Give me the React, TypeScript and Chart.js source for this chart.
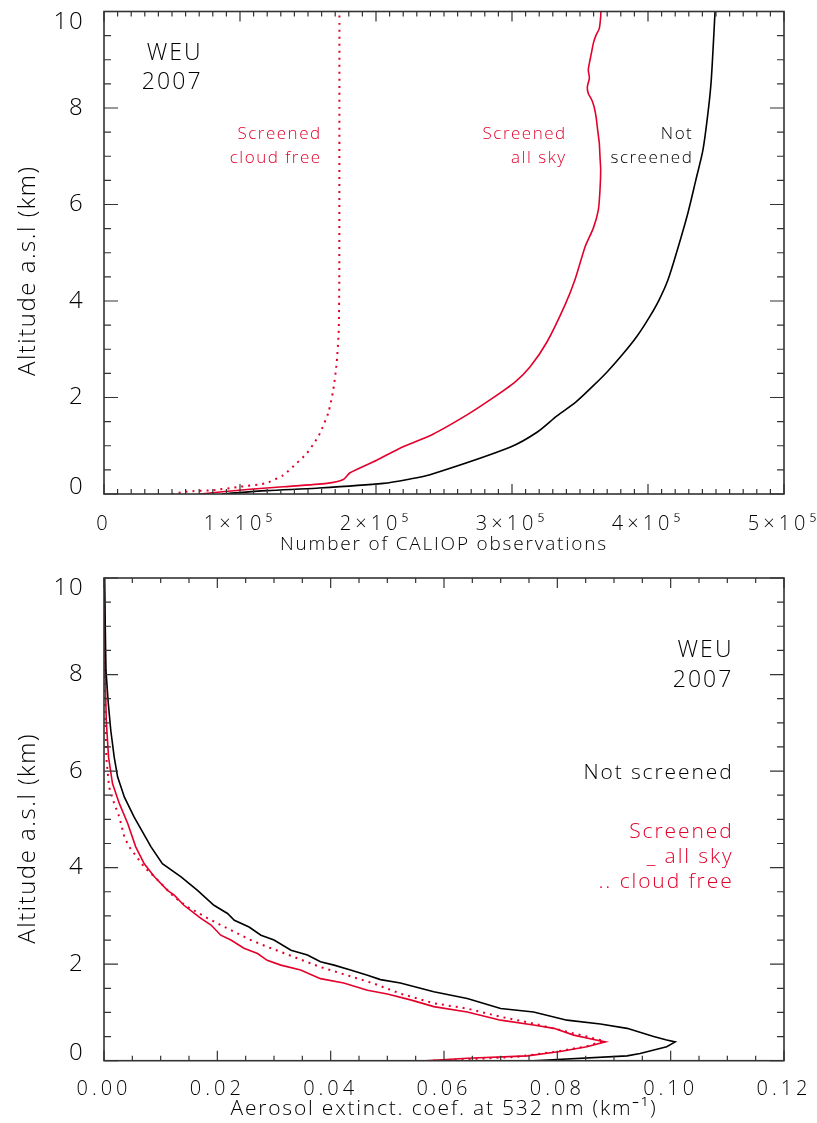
import React, { useEffect, useRef } from "react";
import { Chart, registerables } from "chart.js";
Chart.register(...registerables);

const RED = "#e3002b";
const FONT = "'Open Sans', 'DejaVu Sans', sans-serif";

// ---------- Top panel: number of CALIOP observations vs altitude ----------
const obsXTicks = [0, 100000, 200000, 300000, 400000, 500000];
const altTicks = [0, 2, 4, 6, 8, 10];

const notScreenedAlt = [0, 0.07, 0.12, 0.22, 0.31, 0.40, 0.97, 1.28, 1.62, 1.91, 2.24, 2.53, 2.88, 3.27, 3.65, 4.02, 4.44, 5.10, 5.82, 6.51, 7.13, 7.90, 8.50, 9.20, 10.0];
const notScreenedCount = [86800, 119600, 156400, 205400, 225000, 239700, 298500, 318400, 333100, 347100, 359600, 369900, 380900, 391900, 400700, 408100, 414700, 422000, 429300, 435200, 440400, 444100, 446300, 447800, 449300];

const allSkyAlt = [0, 0.10, 0.15, 0.22, 0.30, 0.44, 0.70, 0.95, 1.24, 1.64, 1.95, 2.32, 2.63, 3.15, 3.92, 4.44, 5.12, 5.51, 5.89, 6.30, 6.72, 6.99, 7.27, 7.54, 7.82, 8.03, 8.17, 8.30, 8.44, 8.62, 8.79, 9.00, 9.17, 9.34, 9.51, 9.65, 9.89, 10.0];
const allSkyCount = [70600, 107400, 131800, 163800, 176000, 180900, 200500, 217600, 241900, 266900, 283800, 302200, 313200, 325700, 339000, 346300, 353700, 359800, 363500, 364700, 365200, 364700, 364200, 363000, 361800, 360300, 358600, 356100, 355400, 356900, 356100, 357400, 358600, 359800, 361800, 364200, 365200, 365400];

const cloudFreeAlt = [0, 0.05, 0.08, 0.15, 0.22, 0.39, 0.64, 0.84, 1.08, 1.26, 1.68, 2.16, 2.72, 3.40, 4.44, 10.0];
const cloudFreeCount = [49800, 60800, 80400, 100000, 118400, 131800, 141700, 149000, 155100, 158800, 164900, 168600, 171100, 172600, 173000, 173100];

// ---------- Bottom panel: aerosol extinction vs altitude ----------
const extXTicks = [0, 0.02, 0.04, 0.06, 0.08, 0.10, 0.12];

const extNotScreenedAlt = [10, 9.88, 8.08, 7.40, 6.84, 6.29, 5.88, 5.46, 5.05, 4.43, 4.08, 3.81, 3.53, 3.22, 3.05, 2.91, 2.77, 2.60, 2.50, 2.29, 2.19, 2.05, 1.98, 1.88, 1.77, 1.68, 1.61, 1.43, 1.29, 1.08, 1.01, 0.84, 0.76, 0.67, 0.50, 0.43, 0.39, 0.29, 0.15, 0.10, 0.0];
const extNotScreened = [0.0, 0.0001, 0.00035, 0.00076, 0.0012, 0.0018, 0.0024, 0.0036, 0.0053, 0.0083, 0.0103, 0.0136, 0.0165, 0.0194, 0.0218, 0.0230, 0.0256, 0.0277, 0.0300, 0.0330, 0.0359, 0.0382, 0.0406, 0.0435, 0.0465, 0.0488, 0.0523, 0.0582, 0.0641, 0.0700, 0.0758, 0.0817, 0.0876, 0.0923, 0.0970, 0.0993, 0.1008, 0.0993, 0.0946, 0.0923, 0.0758];

const extAllSkyAlt = [10, 9.88, 8.08, 7.05, 6.29, 5.74, 5.33, 4.91, 4.43, 4.08, 3.81, 3.53, 3.43, 3.22, 2.95, 2.81, 2.60, 2.50, 2.33, 2.22, 2.08, 1.98, 1.88, 1.70, 1.61, 1.46, 1.38, 1.26, 1.12, 1.01, 0.84, 0.74, 0.67, 0.53, 0.44, 0.39, 0.29, 0.19, 0.10, 0.05, 0.0];
const extAllSky = [0.0, 0.0001, 0.0002, 0.0004, 0.0008, 0.0015, 0.0027, 0.0042, 0.0056, 0.0071, 0.0089, 0.0112, 0.0124, 0.0141, 0.0171, 0.0189, 0.0206, 0.0224, 0.0247, 0.0271, 0.0288, 0.0312, 0.0347, 0.0382, 0.0423, 0.0465, 0.0500, 0.0541, 0.0582, 0.0641, 0.0700, 0.0758, 0.0794, 0.0829, 0.0864, 0.0885, 0.0852, 0.0805, 0.0747, 0.0641, 0.0567];

const extCloudFreeAlt = [10, 7.46, 6.29, 5.67, 5.33, 5.05, 4.63, 4.44, 4.01, 3.74, 3.39, 3.19, 2.95, 2.74, 2.50, 2.36, 2.15, 1.94, 1.77, 1.60, 1.39, 1.19, 1.08, 0.91, 0.77, 0.60, 0.50, 0.41, 0.30, 0.19, 0.08, 0.03, 0.0];
const extCloudFree = [0.0, 0.0002, 0.0004, 0.0009, 0.0018, 0.0027, 0.0036, 0.0044, 0.0071, 0.0095, 0.0124, 0.0147, 0.0183, 0.0218, 0.0259, 0.0288, 0.0335, 0.0382, 0.0429, 0.0476, 0.0523, 0.0582, 0.0641, 0.0700, 0.0758, 0.0817, 0.0852, 0.0882, 0.0852, 0.0799, 0.0729, 0.0641, 0.0576];

type Note = { text: string; x: number; y: number; size: number; color: string };

const topNotes: Note[] = [
  { text: "WEU", x: 72600, y: 9.13, size: 23, color: "#000" },
  { text: "2007", x: 72600, y: 8.52, size: 23, color: "#000" },
  { text: "Screened", x: 160000, y: 7.46, size: 17, color: RED },
  { text: "cloud free", x: 160000, y: 6.97, size: 17, color: RED },
  { text: "Screened", x: 340200, y: 7.46, size: 17, color: RED },
  { text: "all sky", x: 340200, y: 6.97, size: 17, color: RED },
  { text: "Not", x: 433300, y: 7.46, size: 17, color: "#000" },
  { text: "screened", x: 433300, y: 6.97, size: 17, color: "#000" },
];

const bottomNotes: Note[] = [
  { text: "WEU", x: 0.1111, y: 8.49, size: 23, color: "#000" },
  { text: "2007", x: 0.1111, y: 7.88, size: 23, color: "#000" },
  { text: "Not screened", x: 0.1111, y: 5.97, size: 21, color: "#000" },
  { text: "Screened", x: 0.1111, y: 4.74, size: 21, color: RED },
  { text: "_ all sky", x: 0.1111, y: 4.21, size: 21, color: RED },
  { text: ".. cloud free", x: 0.1111, y: 3.71, size: 21, color: RED },
];

const toPoints = (xs: number[], ys: number[]) => xs.map((x, i) => ({ x, y: ys[i] }));

type PanelCfg = {
  height: number;
  padTop: number;
  plotBottom: number;
  xMax: number;
  xTicks: number[];
  xMajor: number;
  xMinor: number;
  xFormat: (v: number) => string;
  xTitle: string;
  xTitleSize: number;
  xTickPad: number;
  xTitlePad: number;
  yTitleShift: number;
  notes: Note[];
  datasets: any[];
};

function decorPlugin(cfg: PanelCfg) {
  return {
    id: "decor",
    beforeDraw(chart: any) {
      chart.ctx.letterSpacing = "1.8px";
    },
    afterDatasetsDraw(chart: any) {
      // x tick labels are drawn after the datasets (ticks.z = 1) with wider spacing
      chart.ctx.letterSpacing = "4px";
    },
    afterDraw(chart: any) {
      const ctx: CanvasRenderingContext2D = chart.ctx;
      const a = chart.chartArea;
      const xs = chart.scales.x;
      const ys = chart.scales.y;
      ctx.save();
      ctx.strokeStyle = "#333";
      ctx.lineWidth = 1.6;
      ctx.strokeRect(a.left, a.top, a.right - a.left, a.bottom - a.top);
      ctx.lineWidth = 1.2;
      ctx.beginPath();
      const nx = Math.round((xs.max - xs.min) / cfg.xMinor);
      for (let i = 0; i <= nx; i++) {
        const v = xs.min + i * cfg.xMinor;
        const r = v / cfg.xMajor;
        const major = Math.abs(r - Math.round(r)) < 1e-6;
        const L = major ? 10 : 5;
        const px = xs.getPixelForValue(v);
        ctx.moveTo(px, a.bottom);
        ctx.lineTo(px, a.bottom - L);
        ctx.moveTo(px, a.top);
        ctx.lineTo(px, a.top + L);
      }
      const ny = Math.round((ys.max - ys.min) / 0.5);
      for (let i = 0; i <= ny; i++) {
        const v = ys.min + i * 0.5;
        const major = Math.abs(v / 2 - Math.round(v / 2)) < 1e-6;
        const L = major ? 14 : 7;
        const py = ys.getPixelForValue(v);
        ctx.moveTo(a.left, py);
        ctx.lineTo(a.left + L, py);
        ctx.moveTo(a.right, py);
        ctx.lineTo(a.right - L, py);
      }
      ctx.stroke();

      // y-axis title
      ctx.save();
      ctx.letterSpacing = "1.5px";
      ctx.translate(28, (a.top + a.bottom) / 2 + cfg.yTitleShift);
      ctx.rotate(-Math.PI / 2);
      ctx.font = `300 24px ${FONT}`;
      ctx.fillStyle = "#000";
      ctx.textAlign = "center";
      ctx.textBaseline = "middle";
      ctx.fillText("Altitude a.s.l (km)", 0, 0);
      ctx.restore();

      // annotations
      for (const n of cfg.notes) {
        ctx.font = `300 ${n.size}px ${FONT}`;
        ctx.letterSpacing = `${(n.size * 0.09).toFixed(1)}px`;
        ctx.fillStyle = n.color;
        ctx.textAlign = "right";
        ctx.textBaseline = "middle";
        ctx.fillText(n.text, xs.getPixelForValue(n.x), ys.getPixelForValue(n.y));
      }
      ctx.restore();
    },
  };
}

function Panel({ cfg, top }: { cfg: PanelCfg; top: number }) {
  const ref = useRef<HTMLCanvasElement | null>(null);
  useEffect(() => {
    if (!ref.current) return;
    const chart = new Chart(ref.current, {
      type: "scatter",
      data: { datasets: cfg.datasets },
      options: {
        responsive: false,
        animation: false,
        events: [],
        layout: { padding: { top: cfg.padTop, right: 33, left: 0, bottom: 0 } },
        plugins: { legend: { display: false }, tooltip: { enabled: false } },
        elements: { point: { radius: 0 } },
        scales: {
          x: {
            type: "linear",
            min: 0,
            max: cfg.xMax,
            afterBuildTicks: (s: any) => {
              s.ticks = cfg.xTicks.map((v) => ({ value: v }));
            },
            afterFit: (s: any) => {
              s.height = cfg.height - cfg.plotBottom;
              s.paddingLeft = 0;
              s.paddingRight = 0;
              s.paddingTop = 0;
              s.paddingBottom = 0;
            },
            grid: { display: false },
            border: { display: false },
            ticks: {
              z: 1,
              autoSkip: false,
              maxRotation: 0,
              padding: cfg.xTickPad,
              color: "#000",
              font: { family: FONT, size: 20, weight: "300" as any },
              callback: (v: any) => cfg.xFormat(Number(v)),
            },
            title: {
              display: true,
              text: cfg.xTitle,
              color: "#000",
              font: { family: FONT, size: cfg.xTitleSize, weight: "300" as any },
              padding: { top: 0, bottom: cfg.xTitlePad },
            },
          },
          y: {
            type: "linear",
            min: 0,
            max: 10,
            afterBuildTicks: (s: any) => {
              s.ticks = altTicks.map((v) => ({ value: v }));
            },
            afterFit: (s: any) => {
              s.width = 104;
              s.paddingLeft = 0;
              s.paddingRight = 0;
              s.paddingTop = 0;
              s.paddingBottom = 0;
            },
            grid: { display: false },
            border: { display: false },
            ticks: {
              padding: 11.5,
              color: "#000",
              font: (c: any) => {
                const v = c && c.tick ? c.tick.value : null;
                const lh = v === 10 ? 0.85 : v === 0 ? 0.6 : 1.2;
                return { family: FONT, size: 24, weight: "300", lineHeight: lh };
              },
              callback: (v: any) => {
                const n = Number(v);
                if (n === 10) return ["", "10"];
                if (n === 0) return ["0", ""];
                return String(n);
              },
            },
          },
        },
      },
      plugins: [decorPlugin(cfg)],
    } as any);
    return () => chart.destroy();
  }, []);
  return (
    <canvas
      ref={ref}
      width={817}
      height={cfg.height}
      style={{ position: "absolute", left: 0, top, width: 817, height: cfg.height }}
    />
  );
}

const lineDs = (label: string, pts: any[], color: string, dotted = false, tension = 0) => ({
  label,
  data: pts,
  showLine: true,
  borderColor: color,
  backgroundColor: color,
  borderWidth: dotted ? 2 : 1.6,
  borderDash: dotted ? [2, 5] : [],
  pointRadius: 0,
  tension,
  fill: false,
});

const topCfg: PanelCfg = {
  height: 560,
  padTop: 11.5,
  plotBottom: 494,
  xMax: 500000,
  xTicks: obsXTicks,
  xMajor: 100000,
  xMinor: 10000,
  xFormat: (v) => (v === 0 ? "0" : `${Math.round(v / 100000)}×10⁵`),
  xTitle: "Number of CALIOP observations",
  xTitleSize: 19,
  xTickPad: 10,
  xTitlePad: 4.5,
  yTitleShift: 18,
  notes: topNotes,
  datasets: [
    lineDs("Not screened", toPoints(notScreenedCount, notScreenedAlt), "#000", false, 0.3),
    lineDs("Screened all sky", toPoints(allSkyCount, allSkyAlt), RED, false, 0.2),
    lineDs("Screened cloud free", toPoints(cloudFreeCount, cloudFreeAlt), RED, true, 0.2),
  ],
};

const bottomCfg: PanelCfg = {
  height: 563,
  padTop: 18,
  plotBottom: 500.7,
  xMax: 0.12,
  xTicks: extXTicks,
  xMajor: 0.02,
  xMinor: 0.005,
  xFormat: (v) => v.toFixed(2),
  xTitle: "Aerosol extinct. coef. at 532 nm (km⁻¹)",
  xTitleSize: 21,
  xTickPad: 9,
  xTitlePad: 1,
  yTitleShift: 19,
  notes: bottomNotes,
  datasets: [
    lineDs("Not screened", toPoints(extNotScreened, extNotScreenedAlt), "#000"),
    lineDs("Screened all sky", toPoints(extAllSky, extAllSkyAlt), RED),
    lineDs("Screened cloud free", toPoints(extCloudFree, extCloudFreeAlt), RED, true),
  ],
};

export default function App() {
  return (
    <div style={{ position: "absolute", left: 0, top: 0, width: 817, height: 1123, background: "#fff" }}>
      <Panel cfg={topCfg} top={0} />
      <Panel cfg={bottomCfg} top={560} />
    </div>
  );
}
